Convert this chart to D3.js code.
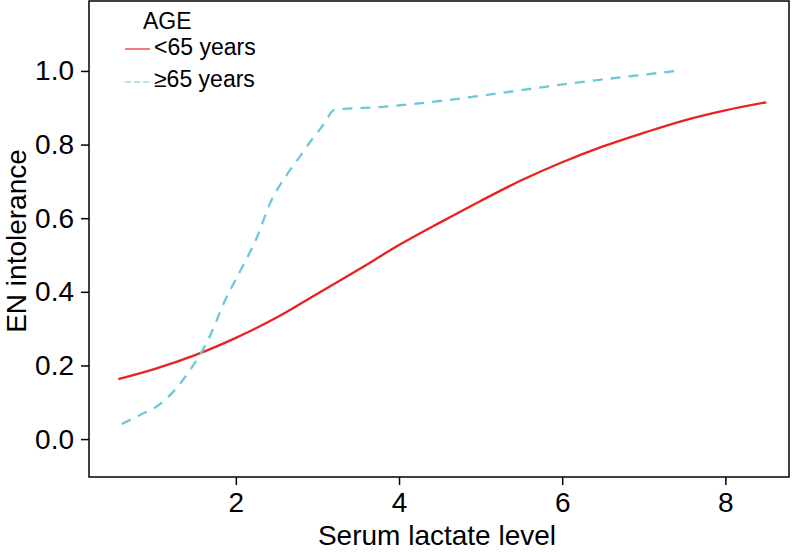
<!DOCTYPE html>
<html><head><meta charset="utf-8">
<script src="https://cdn.jsdelivr.net/npm/d3@7"></script>
<style>body{margin:0;background:#fff}svg{display:block}text{font-family:"Liberation Sans",Arial,sans-serif;fill:#000}</style>
</head><body><svg id="c" width="794" height="552"></svg>
<script>
const xTicks = [2, 4, 6, 8];
const yTicks = [0.0, 0.2, 0.4, 0.6, 0.8, 1.0];
const seriesNames = ["<65 years", "\u226565 years"];
const youngX = [0.56, 1.0, 1.5, 2.0, 2.5, 3.0, 3.5, 4.0, 4.5, 5.0, 5.5, 6.0, 6.5, 7.0, 7.5, 8.0, 8.5];
const youngY = [0.163, 0.19, 0.228, 0.275, 0.33, 0.395, 0.46, 0.527, 0.588, 0.647, 0.703, 0.752, 0.795, 0.832, 0.866, 0.893, 0.915];
const oldX = [0.60, 0.82, 1.07, 1.25, 1.44, 1.66, 1.87, 2.05, 2.26, 2.42, 2.64, 2.78, 2.93, 3.07, 3.21, 3.76, 6.46, 7.40];
const oldY = [0.041, 0.065, 0.095, 0.133, 0.188, 0.269, 0.378, 0.455, 0.549, 0.641, 0.723, 0.766, 0.813, 0.853, 0.894, 0.902, 0.976, 1.0];

const svg = d3.select("#c");
const L = 89, R = 789, T = 1, B = 477;
const x = d3.scaleLinear().domain([0.2, 8.78]).range([L, R]);
const y = d3.scaleLinear().domain([-0.103, 1.19]).range([B, T]);

svg.append("rect").attr("x", L).attr("y", T).attr("width", R - L).attr("height", B - T)
  .attr("fill", "none").attr("stroke", "#000").attr("stroke-width", 1.5);

const xa = svg.append("g").attr("transform", `translate(0,${B})`)
  .call(d3.axisBottom(x).tickValues(xTicks).tickSize(8).tickPadding(7).tickFormat(d3.format("d")));
xa.select(".domain").remove();
xa.selectAll("line").attr("stroke-width", 1.5);
xa.selectAll("text").style("font-size", "28px").attr("dy", "0.71em");

const ya = svg.append("g").attr("transform", `translate(${L},0)`)
  .call(d3.axisLeft(y).tickValues(yTicks).tickSize(8).tickPadding(7).tickFormat(d3.format(".1f")));
ya.select(".domain").remove();
ya.selectAll("line").attr("stroke-width", 1.5);
ya.selectAll("text").style("font-size", "28px");

svg.append("text").attr("x", 437).attr("y", 545).attr("text-anchor", "middle")
  .style("font-size", "28px").text("Serum lactate level");
svg.append("text").attr("transform", `translate(26,241) rotate(-90)`).attr("text-anchor", "middle")
  .style("font-size", "28px").text("EN intolerance");

const line = d3.line().x(d => x(d[0])).y(d => y(d[1])).curve(d3.curveMonotoneX);
svg.append("path").datum(youngX.map((v, i) => [v, youngY[i]]))
  .attr("d", line).attr("fill", "none").attr("stroke", "#e8231f").attr("stroke-width", 2.3);
svg.append("path").datum(oldX.map((v, i) => [v, oldY[i]]))
  .attr("d", line).attr("fill", "none").attr("stroke", "#6ccad6").attr("stroke-width", 2.3)
  .attr("stroke-dasharray", "10,8");

// legend
svg.append("text").attr("x", 143).attr("y", 29).style("font-size", "23px").text("AGE");
const lg = [{c: "#e8231f", d: null, y: 49, ty: 55}, {c: "#6ccad6", d: "6,3", y: 82, ty: 87}];
lg.forEach((g, i) => {
  svg.append("line").attr("x1", 125).attr("x2", 150).attr("y1", g.y).attr("y2", g.y)
    .attr("stroke", g.c).attr("stroke-width", 1.2).attr("stroke-dasharray", g.d);
  svg.append("text").attr("x", 154).attr("y", g.ty).style("font-size", "23px").text(seriesNames[i]);
});
</script></body></html>
